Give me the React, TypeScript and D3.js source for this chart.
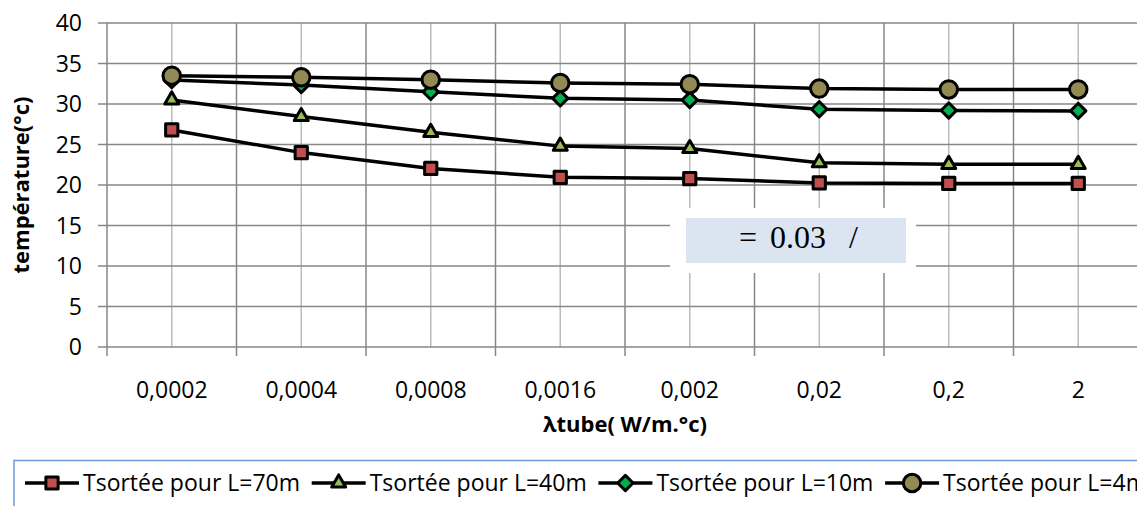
import React from "react";
import * as d3 from "d3";

// λtube values (category axis) and outlet temperatures for each tube length
const categories = ["0,0002", "0,0004", "0,0008", "0,0016", "0,002", "0,02", "0,2", "2"];
const tL70 = [26.8, 24.0, 22.05, 20.95, 20.8, 20.25, 20.2, 20.2];
const tL40 = [30.5, 28.45, 26.5, 24.8, 24.5, 22.75, 22.55, 22.55];
const tL10 = [32.95, 32.35, 31.5, 30.7, 30.5, 29.35, 29.2, 29.15];
const tL4 = [33.5, 33.3, 33.0, 32.6, 32.45, 31.9, 31.8, 31.8];
const yTicks = [0, 5, 10, 15, 20, 25, 30, 35, 40];

type Shape = "square" | "triangle" | "diamond" | "circle";
const series: { name: string; values: number[]; shape: Shape; fill: string }[] = [
  { name: "Tsortée pour L=70m", values: tL70, shape: "square", fill: "#c0504d" },
  { name: "Tsortée pour L=40m", values: tL40, shape: "triangle", fill: "#9bbb59" },
  { name: "Tsortée pour L=10m", values: tL10, shape: "diamond", fill: "#00b050" },
  { name: "Tsortée pour L=4m", values: tL4, shape: "circle", fill: "#938953" },
];

const W = 1137;
const H = 506;
const plot = { left: 107, top: 23, bottom: 347, band: 129.5 };
const FONT = "'Open Sans', sans-serif";

const symbolPath = (shape: Shape) => {
  const gen = d3.symbol();
  if (shape === "square") return gen.type(d3.symbolSquare).size(150)();
  if (shape === "triangle") return gen.type(d3.symbolTriangle).size(85)();
  if (shape === "diamond") return gen.type(d3.symbolDiamond2).size(150)();
  return gen.type(d3.symbolCircle).size(240)();
};

function Marker({ shape, fill, x, y }: { shape: Shape; fill: string; x: number; y: number }) {
  return (
    <path
      d={symbolPath(shape) || ""}
      transform={`translate(${x},${y})`}
      fill={fill}
      stroke="#000"
      strokeWidth={3}
      strokeLinejoin="round"
    />
  );
}

export default function App() {
  const x = d3
    .scaleBand<string>()
    .domain(categories)
    .range([plot.left, plot.left + plot.band * categories.length])
    .padding(0);
  const y = d3.scaleLinear().domain([0, 40]).range([plot.bottom, plot.top]);
  const cx = (c: string) => (x(c) ?? 0) + x.bandwidth() / 2;

  const line = d3
    .line<number>()
    .x((_, i) => cx(categories[i]))
    .y((v) => y(v));

  const bounds = categories.map((c) => x(c) ?? 0);
  const legendStep = 286.7;

  return (
    <div style={{ position: "absolute", left: 0, top: 0 }}>
      <svg width={W} height={H} style={{ display: "block", background: "#fff" }}>
        {/* minor vertical gridlines at category centres */}
        {categories.map((c) => (
          <line key={"mv" + c} x1={cx(c)} x2={cx(c)} y1={plot.top} y2={plot.bottom} stroke="#bcbcbc" strokeWidth={1.5} />
        ))}
        {/* major vertical gridlines and tick marks at category boundaries */}
        {bounds.slice(1).map((b, i) => (
          <line key={"Mv" + i} x1={b} x2={b} y1={plot.top} y2={plot.bottom + 9} stroke="#878787" strokeWidth={1.5} />
        ))}
        {/* horizontal gridlines */}
        {yTicks.map((t) => (
          <line key={"h" + t} x1={plot.left - 9} x2={W} y1={y(t)} y2={y(t)} stroke="#878787" strokeWidth={1.5} />
        ))}
        {/* value axis */}
        <line x1={plot.left} x2={plot.left} y1={plot.top} y2={plot.bottom + 9} stroke="#878787" strokeWidth={1.5} />

        {/* y tick labels */}
        {yTicks.map((t) => (
          <text key={"yl" + t} x={82} y={y(t)} dy="0.36em" textAnchor="end" fontFamily={FONT} fontSize={23} fill="#000">
            {t}
          </text>
        ))}
        {/* x tick labels */}
        {categories.map((c) => (
          <text key={"xl" + c} x={cx(c)} y={398} textAnchor="middle" fontFamily={FONT} fontSize={23} fill="#000">
            {c}
          </text>
        ))}

        {/* axis titles */}
        <text x={625} y={432} textAnchor="middle" fontFamily={FONT} fontSize={22} fontWeight="bold">
          λtube( W/m.°c)
        </text>
        <text
          transform={`translate(29,185) rotate(-90)`}
          textAnchor="middle"
          fontFamily={FONT}
          fontSize={22}
          fontWeight="bold"
        >
          température(°c)
        </text>

        {/* series lines */}
        {series.map((s) => (
          <path key={"l" + s.name} d={line(s.values) || ""} fill="none" stroke="#000" strokeWidth={3.5} />
        ))}
        {/* markers */}
        {series.map((s) =>
          s.values.map((v, i) => (
            <Marker key={s.name + i} shape={s.shape} fill={s.fill} x={cx(categories[i])} y={y(v)} />
          ))
        )}

        {/* annotation box */}
        <rect x={670} y={208} width={246} height={65} fill="#fff" />
        <rect x={686} y={218} width={220} height={45} fill="#dbe5f1" />
        <text x={739} y={248} fontFamily="'Liberation Serif', serif" fontSize={32} fill="#000">
          =
        </text>
        <text x={770} y={248} fontFamily="'Liberation Serif', serif" fontSize={32} fill="#000">
          0.03
        </text>
        <text x={849} y={248} fontFamily="'Liberation Serif', serif" fontSize={32} fill="#000">
          /
        </text>

        {/* legend */}
        <rect x={14} y={460.5} width={W} height={80} fill="#fff" stroke="#6f9bd6" strokeWidth={1.5} />
        {series.map((s, i) => {
          const x0 = 25 + i * legendStep;
          const ly = 483;
          return (
            <g key={"lg" + s.name}>
              <line x1={x0} x2={x0 + 54} y1={ly} y2={ly} stroke="#000" strokeWidth={3.5} />
              <Marker shape={s.shape} fill={s.fill} x={x0 + 27} y={ly} />
              <text x={x0 + 58} y={491} fontFamily={FONT} fontSize={23} fill="#000">
                {s.name}
              </text>
            </g>
          );
        })}
      </svg>
    </div>
  );
}
